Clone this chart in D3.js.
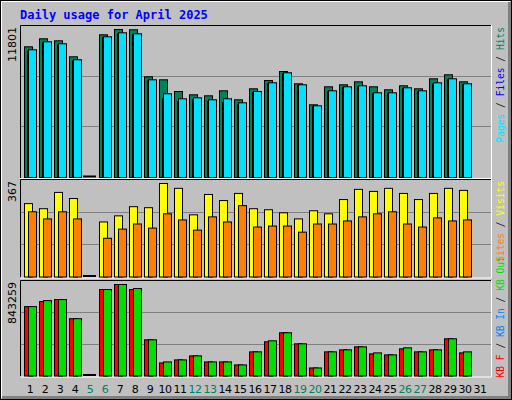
<!DOCTYPE html>
<html>
<head>
<meta charset="utf-8">
<script src="https://cdn.jsdelivr.net/npm/d3@7"></script>
<style>
  body { margin: 0; background: #fff; }
  svg { display: block; }
</style>
</head>
<body>
<svg width="512" height="400"></svg>
<script>
const days = d3.range(1, 32);
const weekend = [5, 6, 12, 13, 19, 20, 26, 27];

// values per day, April has 30 days (31 left empty)
const hits = [10421, 11059, 10900, 9624, 0, 11378, 11801, 11777, 8029, 7790, 6857, 6594, 6514, 6913, 6195,
  7072, 7734, 8452, 7471, 5797, 7232, 7391, 7631, 7232, 6993, 7312, 7072, 7870, 8189, 7631, null];
const files = [10100, 10740, 10580, 9300, 0, 11140, 11460, 11380, 7710, 6270, 6040, 6220, 6060, 5980, 5820,
  6780, 7470, 8270, 7310, 5640, 6830, 7150, 7230, 6670, 6670, 7070, 6830, 7470, 7790, 7390, null];
const pages = [10183, 10821, 10661, 9386, 0, 11219, 11539, 11459, 7790, 6674, 6276, 6355, 6196, 6276, 5957,
  6858, 7551, 8349, 7392, 5717, 6913, 7232, 7312, 6754, 6754, 7153, 6913, 7551, 7870, 7472, null];

const visits = [288, 268, 332, 308, 0, 216, 240, 276, 272, 367, 348, 244, 324, 300, 328,
  268, 264, 252, 228, 260, 248, 304, 344, 336, 348, 328, 304, 328, 348, 340, null];
const sites = [256, 228, 256, 228, 0, 152, 188, 208, 192, 248, 224, 184, 236, 216, 280,
  196, 200, 200, 176, 208, 208, 220, 236, 248, 256, 208, 196, 232, 220, 224, null];

const kbOut = [639400, 695000, 704300, 528200, 0, 797000, 843259, 806200, 333600, 129700, 148300, 185300, 129700, 129700, 101900,
  222400, 324300, 398500, 296500, 74100, 222400, 240900, 268700, 213100, 194600, 259500, 222400, 240900, 342900, 222400, null];
const kbF = [639400, 686000, 704300, 528200, 0, 797000, 843259, 797000, 333600, 120400, 148300, 185300, 129700, 129700, 101900,
  222400, 315000, 398500, 296500, 74100, 222400, 240900, 268700, 203800, 194600, 250200, 222400, 240900, 342900, 213100, null];

const svg = d3.select('svg');
const left = 20, right = 491;
const font = "'DejaVu Sans Mono', monospace";

// background and bevelled frame
svg.append('rect').attr('width', 512).attr('height', 400).attr('fill', '#c0c0c0');
svg.append('rect').attr('x', 0.5).attr('y', 0.5).attr('width', 511).attr('height', 399)
  .attr('fill', 'none').attr('stroke', '#000');
svg.append('path').attr('d', 'M1.5,398V1.5H510').attr('fill', 'none').attr('stroke', '#fff');
svg.append('path').attr('d', 'M2,397.5H509.5V2').attr('fill', 'none').attr('stroke', '#808080').attr('stroke-width', 3);

svg.append('text').attr('x', 20).attr('y', 19)
  .attr('font-family', font).attr('font-weight', 'bold').attr('font-size', 12)
  .attr('fill', '#0000ff').text('Daily usage for April 2025');

const x = d3.scaleBand().domain(days).range([left + 4, left + 4 + 15 * 31]);

const panels = [
  { top: 25, bottom: 177, max: 11801, label: '11801', anchorTop: true,
    series: [{ v: hits, c: '#00805c', dx: 0, w: 8 }, { v: files, c: '#0000ff', dx: 3, w: 7 }, { v: pages, c: '#00e0ff', dx: 4, w: 8 }],
    legend: [['Pages', '#00e0ff'], [' / ', '#000'], ['Files', '#0000ff'], [' / ', '#000'], ['Hits', '#00805c']] },
  { top: 179, bottom: 276.5, max: 367, label: '367', anchorTop: true,
    series: [{ v: visits, c: '#ffff00', dx: 0, w: 8 }, { v: sites, c: '#ff8000', dx: 4, w: 8 }],
    legend: [['Sites', '#ff8000'], [' / ', '#000'], ['Visits', '#ffff00']] },
  { top: 280, bottom: 375.5, max: 843259, label: '843259', anchorTop: false,
    series: [{ v: kbF, c: '#ff0000', dx: 0, w: 8 }, { v: kbOut, c: '#00e000', dx: 4, w: 8 }],
    legend: [['KB F', '#ff0000'], [' / ', '#000'], ['KB In', '#0080ff'], [' / ', '#000'], ['KB Out', '#00e000']] }
];

panels.forEach(p => {
  const g = svg.append('g');
  const y = d3.scaleLinear().domain([0, p.max]).range([p.bottom, p.top + 4]);
  const h = p.bottom - p.top;
  [1 / 3, 2 / 3].forEach(f => {
    g.append('line').attr('x1', left).attr('x2', right)
      .attr('y1', Math.round(p.top + h * f) + 0.5).attr('y2', Math.round(p.top + h * f) + 0.5)
      .attr('stroke', '#808080');
  });
  g.append('path').attr('d', `M${left + 0.5},${p.bottom + 1}V${p.top + 0.5}H${right}`)
    .attr('fill', 'none').attr('stroke', '#000');
  g.append('path').attr('d', `M${left},${p.bottom + 1.5}H${right + 0.5}V${p.top}`)
    .attr('fill', 'none').attr('stroke', '#fff');

  p.series.forEach(s => {
    g.selectAll(null).data(days.filter(d => s.v[d - 1] !== null && s.v[d - 1] > 0))
      .enter().append('rect')
      .attr('x', d => x(d) + s.dx + 0.5)
      .attr('y', d => y(s.v[d - 1]) + 0.5)
      .attr('width', s.w)
      .attr('height', d => p.bottom - y(s.v[d - 1]))
      .attr('fill', s.c).attr('stroke', '#000');
  });
  // zero days
  g.selectAll(null).data(days.filter(d => p.series[0].v[d - 1] === 0))
    .enter().append('line')
    .attr('x1', d => x(d) - 1).attr('x2', d => x(d) + 12)
    .attr('y1', p.bottom - 0.5).attr('y2', p.bottom - 0.5)
    .attr('stroke', '#000').attr('stroke-width', 2);

  svg.append('text')
    .attr('transform', `translate(16,${p.top + 2}) rotate(-90)`)
    .attr('text-anchor', 'end').attr('font-family', "'DejaVu Sans', sans-serif")
    .attr('font-size', 11).text(p.label);

  const t = svg.append('text')
    .attr('transform', `translate(504,${p.anchorTop ? p.top + 2 : p.bottom + 2}) rotate(-90)`)
    .attr('text-anchor', p.anchorTop ? 'end' : 'start')
    .attr('font-family', font).attr('font-size', 9.6);
  p.legend.forEach(([s, c]) => t.append('tspan').attr('fill', c).text(s));
});

svg.append('g').selectAll('text').data(days).enter().append('text')
  .attr('x', d => x(d) + 6).attr('y', 393)
  .attr('text-anchor', 'middle')
  .attr('font-family', "'DejaVu Sans', sans-serif").attr('font-size', 11)
  .attr('letter-spacing', -0.5)
  .attr('fill', d => weekend.includes(d) ? '#00805c' : '#000')
  .text(d => d);
</script>
</body>
</html>
